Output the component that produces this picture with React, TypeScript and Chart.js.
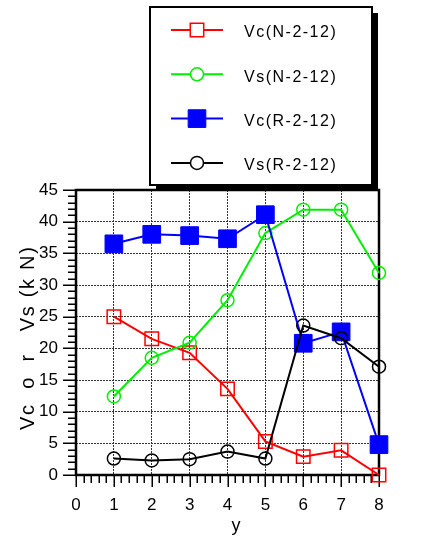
import React, { useEffect, useRef } from 'react';
import { Chart, registerables } from 'chart.js';

Chart.register(...registerables);

// ---- data ----
const categories = [1, 2, 3, 4, 5, 6, 7, 8];
const vcN = [25.0, 21.5, 19.3, 13.6, 5.3, 2.9, 3.9, 0.0];
const vsN = [12.4, 18.5, 20.9, 27.6, 38.2, 41.9, 41.9, 31.9];
const vcR = [36.5, 38.0, 37.8, 37.3, 41.1, 20.8, 22.6, 4.8];
const vsR = [2.6, 2.3, 2.5, 3.7, 2.6, 23.6, 21.6, 17.1];
const seriesLabels = ['Vc(N-2-12)', 'Vs(N-2-12)', 'Vc(R-2-12)', 'Vs(R-2-12)'];
const xMin = 0;
const xMax = 8;
const yMin = 0;
const yMax = 45;
const yTitle = 'Vc  o  r   Vs (k N)';
const xTitle = 'y';

const FONT = '"Liberation Sans", Arial, "Noto Sans CJK SC", sans-serif';

const toPoints = (vals: number[]) => categories.map((c, i) => ({ x: c, y: vals[i] }));

const framePlugin = {
  id: 'frameAndTicks',
  beforeDatasetsDraw(chart: any) {
    const { ctx, chartArea: a, scales } = chart;
    const x = scales.x;
    const y = scales.y;
    ctx.save();
    ctx.strokeStyle = '#000';
    ctx.lineWidth = 1.5;
    ctx.beginPath();
    for (let i = 0; i <= (xMax - xMin) * 5; i++) {
      const px = Math.round(x.getPixelForValue(xMin + i * 0.2)) + 0.25;
      const len = i % 5 === 0 ? 12 : 8;
      ctx.moveTo(px, a.bottom);
      ctx.lineTo(px, a.bottom + len);
    }
    for (let v = yMin; v <= yMax; v++) {
      const py = Math.round(y.getPixelForValue(v)) + 0.25;
      const len = v % 5 === 0 ? 13 : 8;
      ctx.moveTo(a.left - len, py);
      ctx.lineTo(a.left, py);
    }
    ctx.stroke();
    ctx.lineWidth = 2.5;
    ctx.strokeRect(a.left, a.top, a.right - a.left, a.bottom - a.top);
    ctx.restore();
  },
  afterDraw(chart: any) {
    const { ctx } = chart;
    ctx.save();
    // legend box with shadow
    const bx = 150, by = 7, bw = 222, bh = 178;
    ctx.fillStyle = '#000';
    ctx.fillRect(bx + 6, by + 6, bw, bh);
    ctx.fillStyle = '#fff';
    ctx.fillRect(bx, by, bw, bh);
    ctx.strokeStyle = '#000';
    ctx.lineWidth = 2;
    ctx.strokeRect(bx, by, bw, bh);

    chart.data.datasets.forEach((ds: any, i: number) => {
      const ry = 30 + i * 44.3;
      ctx.strokeStyle = ds.borderColor;
      ctx.lineWidth = 2;
      ctx.beginPath();
      ctx.moveTo(171, ry);
      ctx.lineTo(223, ry);
      ctx.stroke();
      const cx = 197;
      const r = ds.pointRadius;
      ctx.lineWidth = ds.pointBorderWidth;
      ctx.beginPath();
      if (ds.pointStyle === 'rect') {
        const s = Math.SQRT1_2 * r;
        ctx.rect(cx - s, ry - s, 2 * s, 2 * s);
      } else {
        ctx.arc(cx, ry, r, 0, Math.PI * 2);
      }
      ctx.fillStyle = ds.pointBackgroundColor !== 'rgba(0,0,0,0)' ? ds.pointBackgroundColor : '#fff';
      ctx.fill();
      ctx.stroke();
      ctx.fillStyle = '#000';
      ctx.font = `16px ${FONT}`;
      (ctx as any).letterSpacing = '1.5px';
      ctx.textAlign = 'left';
      ctx.textBaseline = 'middle';
      ctx.fillText(ds.label, 244, ry + 3);
      (ctx as any).letterSpacing = '0px';
    });

    // axis titles
    ctx.fillStyle = '#000';
    ctx.font = `18px ${FONT}`;
    ctx.textAlign = 'center';
    ctx.textBaseline = 'alphabetic';
    ctx.fillText(xTitle, 236, 531);

    ctx.translate(34, 430);
    ctx.rotate(-Math.PI / 2);
    ctx.font = `20px ${FONT}`;
    (ctx as any).letterSpacing = '1.7px';
    ctx.textAlign = 'left';
    ctx.textBaseline = 'alphabetic';
    ctx.fillText(yTitle, 0, 0);
    ctx.restore();
  },
};

export default function App() {
  const ref = useRef<HTMLCanvasElement | null>(null);
  useEffect(() => {
    if (!ref.current) return;
    const gridCol = '#333';
    const edgeX = (c: any) => (c.tick && (c.tick.value === xMin || c.tick.value === xMax) ? 'rgba(0,0,0,0)' : gridCol);
    const edgeY = (c: any) => (c.tick && (c.tick.value === yMin || c.tick.value === yMax) ? 'rgba(0,0,0,0)' : gridCol);
    const chart = new Chart(ref.current, {
      type: 'line',
      data: {
        datasets: [
          {
            label: seriesLabels[0],
            data: toPoints(vcN),
            borderColor: '#ff0000',
            borderWidth: 2,
            pointStyle: 'rect',
            pointRadius: 9.5,
            pointBorderWidth: 1.5,
            pointBorderColor: '#ff0000',
            pointBackgroundColor: 'rgba(0,0,0,0)',
            order: 3,
            clip: false,
          },
          {
            label: seriesLabels[1],
            data: toPoints(vsN),
            borderColor: '#00ee00',
            borderWidth: 2,
            pointStyle: 'circle',
            pointRadius: 6.5,
            pointBorderWidth: 1.5,
            pointBorderColor: '#00ee00',
            pointBackgroundColor: 'rgba(0,0,0,0)',
            order: 2,
            clip: false,
          },
          {
            label: seriesLabels[2],
            data: toPoints(vcR),
            borderColor: '#0000ff',
            borderWidth: 2,
            pointStyle: 'rect',
            pointRadius: 12.5,
            pointBorderWidth: 1,
            pointBorderColor: '#0000ff',
            pointBackgroundColor: '#0000ff',
            order: 1,
            clip: false,
          },
          {
            label: seriesLabels[3],
            data: toPoints(vsR),
            borderColor: '#000000',
            borderWidth: 2,
            pointStyle: 'circle',
            pointRadius: 6.5,
            pointBorderWidth: 1.5,
            pointBorderColor: '#000000',
            pointBackgroundColor: 'rgba(0,0,0,0)',
            order: 0,
            clip: false,
          },
        ] as any,
      },
      options: {
        responsive: false,
        animation: false,
        devicePixelRatio: 1,
        layout: { padding: { top: 190, right: 62, left: 0, bottom: 0 } },
        plugins: { legend: { display: false }, tooltip: { enabled: false } },
        elements: { line: { tension: 0 } },
        scales: {
          x: {
            type: 'linear',
            min: xMin,
            max: xMax,
            afterFit: (s: any) => { s.height = 63; },
            ticks: { stepSize: 1, color: '#000', font: { family: FONT, size: 17 }, padding: 20 },
            grid: { color: edgeX, lineWidth: 1, drawTicks: false },
            border: { display: false, dash: [2, 1] },
          },
          y: {
            type: 'linear',
            min: yMin,
            max: yMax,
            afterFit: (s: any) => { s.width = 76; },
            ticks: { stepSize: 5, color: '#000', font: { family: FONT, size: 17 }, padding: 18 },
            grid: { color: edgeY, lineWidth: 1, drawTicks: false },
            border: { display: false, dash: [2, 1] },
          },
        },
      } as any,
      plugins: [framePlugin],
    });
    return () => chart.destroy();
  }, []);
  return (
    <div style={{ position: 'fixed', left: 0, top: 0, width: 441, height: 538, background: '#fff' }}>
      <canvas ref={ref} width={441} height={538} style={{ display: 'block' }} />
    </div>
  );
}
